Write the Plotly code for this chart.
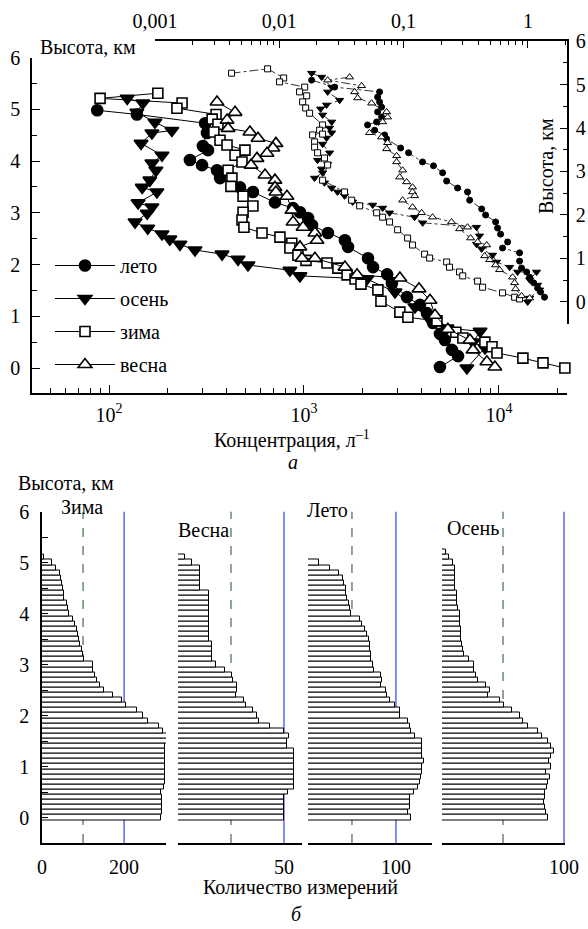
import plotly.graph_objects as go

# ---------------- data: top panel (large markers: concentration, 1/l ; left height axis) -------------
summer_big_c = [87, 139, 311, 318, 303, 322, 260, 300, 358, 371, 470, 547, 710, 879, 954, 1049, 1100, 1327,
                1622, 1682, 2130, 2260, 2670, 2825, 3375, 3935, 4275, 4590, 4980, 5280, 5740, 6170, 4980]
summer_big_h = [4.98, 4.90, 4.73, 4.54, 4.29, 4.21, 4.02, 3.92, 3.82, 3.67, 3.49, 3.40, 3.20, 3.09, 3.01, 2.90,
                2.76, 2.61, 2.47, 2.34, 2.12, 1.95, 1.81, 1.64, 1.37, 1.22, 1.06, 0.87, 0.66, 0.54, 0.35, 0.23, 0.02]

autumn_big_c = [124, 149, 139, 172, 210, 166, 146, 187, 166, 174, 162, 148, 176, 141, 166, 157, 136, 158,
                187, 205, 231, 276, 380, 459, 516, 847, 953, 2100, 2930, 3710, 4430, 5410, 8000, 7360, 8480, 6850]
autumn_big_h = [5.21, 5.12, 4.94, 4.75, 4.59, 4.54, 4.34, 4.11, 3.96, 3.82, 3.63, 3.49, 3.40, 3.19, 3.11, 2.99,
                2.82, 2.70, 2.59, 2.49, 2.39, 2.28, 2.20, 2.10, 1.99, 1.89, 1.78, 1.72, 1.47, 1.18, 0.93, 0.77,
                0.71, 0.50, 0.39, 0.0]

winter_big_c = [178, 90, 237, 223, 354, 338, 362, 345, 371, 403, 498, 443, 481, 408, 427, 422, 487, 547, 487,
                481, 492, 609, 753, 866, 847, 931, 1024, 1312, 1493, 1663, 1828, 1960, 2394, 2482, 3103, 3412,
                4808, 6010, 6530, 8470, 9210, 9770, 13270, 16830, 21780]
winter_big_h = [5.31, 5.21, 5.12, 5.02, 4.90, 4.81, 4.71, 4.56, 4.40, 4.31, 4.21, 4.11, 3.98, 3.82, 3.67, 3.51,
                3.32, 3.13, 3.01, 2.86, 2.72, 2.61, 2.53, 2.41, 2.32, 2.18, 2.08, 2.03, 1.93, 1.80, 1.72, 1.62,
                1.51, 1.29, 1.08, 0.98, 0.91, 0.69, 0.58, 0.50, 0.41, 0.29, 0.19, 0.10, 0.0]

spring_big_c = [358, 443, 403, 408, 528, 581, 718, 693, 646, 574, 535, 631, 710, 710, 718, 818, 867, 879, 989,
                1138, 1166, 953, 977, 1138, 1622, 1871, 3103, 3890, 4430, 4700, 5470, 7100, 7360, 8670, 9530]
spring_big_h = [5.14, 4.94, 4.79, 4.63, 4.56, 4.44, 4.34, 4.25, 4.15, 4.05, 3.92, 3.73, 3.63, 3.49, 3.40, 3.32,
                3.05, 2.82, 2.72, 2.61, 2.47, 2.34, 2.12, 2.12, 1.95, 1.80, 1.74, 1.53, 1.31, 1.02, 0.75, 0.54,
                0.35, 0.12, 0.02]

# ---------------- data: top panel (small markers: top log axis ; right height axis) -------------
summer_small_m = [0.0182, 0.0279, 0.0641, 0.0618, 0.0641, 0.0665, 0.0618, 0.0665, 0.0607, 0.0513, 0.0585,
                  0.0704, 0.0730, 0.0946, 0.1097, 0.142, 0.174, 0.206, 0.222, 0.272, 0.327, 0.340, 0.425,
                  0.457, 0.550, 0.570, 0.603, 0.687, 0.625, 0.857, 0.857, 0.889, 0.977, 1.033, 1.112, 1.197,
                  1.264, 1.361]
summer_small_h = [5.10, 4.94, 4.83, 4.71, 4.60, 4.48, 4.37, 4.25, 4.14, 4.07, 3.95, 3.84, 3.75, 3.54, 3.43,
                  3.22, 3.13, 2.97, 2.78, 2.62, 2.53, 2.34, 2.14, 2.00, 1.84, 1.70, 1.56, 1.38, 1.24, 1.13,
                  0.94, 0.78, 0.69, 0.57, 0.44, 0.32, 0.23, 0.11]

autumn_small_m = [0.0182, 0.0219, 0.0264, 0.0245, 0.0306, 0.0240, 0.0215, 0.0223, 0.0264, 0.0254, 0.0264,
                  0.0240, 0.0223, 0.0254, 0.0203, 0.0245, 0.0219, 0.0223, 0.0192, 0.0231, 0.0264, 0.0294,
                  0.0335, 0.0389, 0.0564, 0.0678, 0.0771, 0.1226, 0.1423, 0.386, 0.408, 0.386, 0.424, 0.520,
                  0.560, 0.713, 0.826, 1.175, 1.033, 1.197, 1.242, 1.033, 0.995]
autumn_small_h = [5.26, 5.17, 4.94, 4.83, 4.64, 4.53, 4.44, 4.30, 4.14, 4.00, 3.89, 3.77, 3.63, 3.43, 3.26,
                  3.17, 3.06, 2.97, 2.85, 2.74, 2.62, 2.53, 2.44, 2.30, 2.23, 2.16, 2.05, 1.95, 1.82, 1.72,
                  1.52, 1.33, 1.22, 1.08, 0.92, 0.80, 0.69, 0.69, 0.51, 0.39, 0.28, 0.09, 0.0]

winter_small_m = [0.00413, 0.00805, 0.01084, 0.01005, 0.0160, 0.01456, 0.0166, 0.0154, 0.0163, 0.01754,
                  0.0223, 0.0211, 0.0223, 0.01854, 0.01923, 0.01923, 0.02033, 0.0231, 0.0245, 0.0223, 0.0335,
                  0.0382, 0.0443, 0.0607, 0.0678, 0.0771, 0.0895, 0.1077, 0.118, 0.1475, 0.162, 0.222, 0.234,
                  0.282, 0.299, 0.394, 0.432, 0.625, 0.782, 0.857]
winter_small_h = [5.26, 5.36, 5.15, 5.06, 4.94, 4.83, 4.74, 4.60, 4.46, 4.34, 4.07, 3.95, 3.86, 3.84, 3.68,
                  3.56, 3.43, 3.31, 3.15, 2.80, 2.53, 2.34, 2.21, 2.05, 1.95, 1.84, 1.66, 1.47, 1.31, 1.10,
                  1.01, 0.92, 0.80, 0.69, 0.60, 0.48, 0.34, 0.21, 0.11, 0.07]

spring_small_m = [0.0368, 0.0245, 0.0459, 0.0404, 0.0427, 0.0553, 0.0730, 0.0743, 0.0678, 0.0532, 0.0665,
                  0.0743, 0.0730, 0.0879, 0.0879, 0.0982, 0.0929, 0.1057, 0.118, 0.118, 0.1226, 0.0982, 0.118,
                  0.1396, 0.171, 0.243, 0.327, 0.282, 0.346, 0.394, 0.466, 0.449, 0.492, 0.550, 0.592, 0.753,
                  0.782, 0.796, 0.889, 1.033]
spring_small_h = [5.17, 5.10, 4.97, 4.83, 4.69, 4.57, 4.37, 4.25, 4.14, 3.89, 3.79, 3.66, 3.52, 3.36, 3.22,
                  3.03, 2.87, 2.76, 2.64, 2.53, 2.44, 2.34, 2.18, 2.05, 1.95, 1.84, 1.72, 1.68, 1.47, 1.38,
                  1.31, 1.06, 0.97, 0.85, 0.74, 0.57, 0.44, 0.30, 0.14, 0.09]

# ---------------- data: bottom panel (number of measurements per 0.1 km height bin) -------------
bin_heights = [0.0, 0.1, 0.2, 0.3, 0.4, 0.5, 0.6, 0.7, 0.8, 0.9, 1.0, 1.1, 1.2, 1.3, 1.4, 1.5, 1.6, 1.7,
               1.8, 1.9, 2.0, 2.1, 2.2, 2.3, 2.4, 2.5, 2.6, 2.7, 2.8, 2.9, 3.0, 3.1, 3.2, 3.3, 3.4, 3.5,
               3.6, 3.7, 3.8, 3.9, 4.0, 4.1, 4.2, 4.3, 4.4, 4.5, 4.6, 4.7, 4.8, 4.9, 5.0, 5.1, 5.2]

winter_counts = [290, 292, 292, 292, 292, 290, 298, 300, 300, 300, 300, 300, 300, 299, 300, 306, 304, 294,
                 286, 258, 247, 231, 205, 194, 174, 152, 141, 135, 129, 125, 124, 103, 101, 98, 93, 90, 87,
                 85, 80, 76, 66, 64, 60, 54, 54, 52, 48, 46, 44, 33, 24, 6]
spring_counts = [50, 50, 50, 50, 50, 52, 54.5, 54.5, 54.5, 54.5, 54.5, 54.5, 54.5, 54.5, 51.3, 51.3, 52.4,
                 50, 43.5, 38.4, 37.1, 35.2, 32.1, 31.3, 27.2, 28, 28, 26.1, 25.3, 22.2, 17.9, 16.2, 16.2,
                 16.2, 16.2, 14.4, 14.4, 14.4, 14.4, 14.4, 14.4, 14.4, 14.4, 14.4, 14.4, 10.5, 10.5, 10.5,
                 10.5, 10.5, 6.6, 3.1]
summer_counts = [116.7, 113.6, 116.3, 116.3, 115.5, 120.5, 125, 126.9, 128, 129.5, 129.5, 131.8, 130, 129.5,
                 129.5, 129.5, 121.3, 117.5, 116.3, 113.6, 104.2, 104.2, 98.5, 92.8, 90.2, 89.1, 83.4, 84.5,
                 83.4, 74.7, 73.7, 72, 71.2, 71, 70.1, 69.3, 67, 64.4, 61.8, 58.7, 49.2, 47.3, 46.6, 44.3,
                 43.6, 42.8, 40.9, 39.8, 35.2, 24.7, 12.5]
autumn_counts = [86.6, 85.5, 84.7, 83.3, 84, 84.7, 86, 86.6, 88.2, 85.5, 89.6, 88, 89.6, 91.5, 89.6, 86.6,
                 82, 78.4, 70.5, 66.4, 63.6, 57.4, 50.5, 47.2, 37.4, 39, 36.1, 29.2, 27.9, 26.5, 26.5, 22.4,
                 18.4, 17, 16, 15.6, 15.6, 15.6, 15, 15, 14.4, 13.1, 12.3, 12.3, 12.3, 10.4, 10.4, 10.4,
                 10.4, 10.4, 8.7, 5.5, 3.3]

season_labels = ["Зима", "Весна", "Лето", "Осень"]
panel_counts = [winter_counts, spring_counts, summer_counts, autumn_counts]
panel_ranges = [302, 58.5, 141, 100.8]
panel_ticks = [[0, 200], [50], [100], [100]]
ref_half = [100, 25, 50, 50]
ref_full = [200, 50, 100, 100]

# ---------------- layout helpers (pixel -> paper) -------------
W, H = 588, 929
def fx(p):
    return p / W
def fy(p):
    return 1 - p / H

FONT = "Liberation Serif"
FS = 20
fig = go.Figure()

big_series = [
    ("лето", summer_big_c, summer_big_h, "circle", "black", 11),
    ("осень", autumn_big_c, autumn_big_h, "triangle-down", "black", 12),
    ("зима", winter_big_c, winter_big_h, "square", "white", 10),
    ("весна", spring_big_c, spring_big_h, "triangle-up", "white", 12),
]
small_series = [
    (summer_small_m, summer_small_h, "circle", "black", 6),
    (autumn_small_m, autumn_small_h, "triangle-down", "black", 7),
    (winter_small_m, winter_small_h, "square", "white", 6),
    (spring_small_m, spring_small_h, "triangle-up", "white", 7),
]

for (xs, ys, sym, col, sz) in small_series:
    fig.add_trace(go.Scatter(
        x=xs, y=ys, xaxis="x2", yaxis="y2", mode="lines+markers", showlegend=False,
        line=dict(color="black", width=0.8, dash="dashdot"),
        marker=dict(symbol=sym, color=col, size=sz, line=dict(color="black", width=1)),
        cliponaxis=False))

for i, (name, xs, ys, sym, col, sz) in enumerate(big_series):
    fig.add_trace(go.Scatter(
        x=xs, y=ys, xaxis="x", yaxis="y", mode="lines+markers", name=name,
        legendgroup="g%d" % i,
        line=dict(color="black", width=1),
        marker=dict(symbol=sym, color=col, size=sz, line=dict(color="black", width=1.6)),
        cliponaxis=False))

xnames = ["x3", "x4", "x5", "x6"]
for i in range(4):
    vals = panel_counts[i]
    fig.add_trace(go.Bar(
        x=vals, y=bin_heights[:len(vals)], orientation="h", width=0.1,
        xaxis=xnames[i], yaxis="y3", showlegend=False,
        marker=dict(color="white", line=dict(color="black", width=1))))

axis_common = dict(showgrid=False, zeroline=False, showline=True, linecolor="black", linewidth=1.5,
                   automargin=False,
                   tickcolor="black", tickwidth=1.2, tickfont=dict(family=FONT, size=FS, color="black"))

minor_bottom = [50, 60, 70, 80, 90, 200, 300, 400, 500, 600, 700, 800, 900,
                2000, 3000, 4000, 5000, 6000, 7000, 8000, 9000, 20000]
minor_top = [0.002, 0.003, 0.004, 0.005, 0.006, 0.007, 0.008, 0.009,
             0.02, 0.03, 0.04, 0.05, 0.06, 0.07, 0.08, 0.09,
             0.2, 0.3, 0.4, 0.5, 0.6, 0.7, 0.8, 0.9, 2]

layout_axes = dict(
    xaxis=dict(type="log", domain=[fx(32), fx(567)], range=[1.605, 4.349], anchor="y",
               tickmode="array", tickvals=[100, 1000, 10000],
               ticktext=["10<sup>2</sup>", "10<sup>3</sup>", "10<sup>4</sup>"],
               ticks="inside", ticklen=8, ticklabelstandoff=3,
               minor=dict(ticks="inside", ticklen=5, tickmode="array", tickvals=minor_bottom,
                          tickcolor="black", tickwidth=1.2),
               **axis_common),
    yaxis=dict(domain=[fy(393), fy(57.5)], range=[-0.483, 6.0], anchor="x",
               tickmode="array", tickvals=[0, 1, 2, 3, 4, 5, 6], ticks="inside", ticklen=8,
               ticklabelstandoff=6,
               minor=dict(ticks="inside", ticklen=5, dtick=0.5, tick0=0, tickcolor="black", tickwidth=1.2),
               **axis_common),
    xaxis2=dict(type="log", domain=[fx(155), fx(567)], range=[-3, 0.3146], anchor="y2", side="top",
                tickmode="array", tickvals=[0.001, 0.01, 0.1, 1], ticktext=["0,001", "0,01", "0,1", "1"],
                ticks="inside", ticklen=7, ticklabelstandoff=3,
                minor=dict(ticks="inside", ticklen=4, tickmode="array", tickvals=minor_top,
                           tickcolor="black", tickwidth=1.2),
                **axis_common),
    yaxis2=dict(domain=[fy(324), fy(41)], range=[-0.506, 6.0], anchor="x2", side="right",
                tickmode="array", tickvals=[0, 1, 2, 3, 4, 5, 6], ticks="inside", ticklen=7,
                ticklabelstandoff=3,
                minor=dict(ticks="inside", ticklen=4, dtick=0.5, tick0=0, tickcolor="black", tickwidth=1.2),
                **axis_common),
    yaxis3=dict(domain=[fy(843), fy(511.5)], range=[-0.5, 6.0], anchor="x3",
                tickmode="array", tickvals=[0, 1, 2, 3, 4, 5, 6], ticks="inside", ticklen=6,
                ticklabelstandoff=7,
                minor=dict(ticks="inside", ticklen=6, dtick=0.5, tick0=0, tickcolor="black", tickwidth=1.2),
                **axis_common),
)
panel_px = [(42, 166), (178, 302), (308, 432), (442, 565)]
for i in range(4):
    layout_axes["xaxis%d" % (i + 3)] = dict(
        domain=[fx(panel_px[i][0]), fx(panel_px[i][1])], range=[0, panel_ranges[i]], anchor="y3",
        tickmode="array", tickvals=panel_ticks[i], ticks="", ticklabelstandoff=5, **axis_common)

fig.update_layout(**layout_axes)

shapes = []
for i in range(4):
    xr = xnames[i]
    shapes.append(dict(type="line", xref=xr, yref="y3", x0=ref_half[i], x1=ref_half[i], y0=-0.5, y1=6.0,
                       layer="below", line=dict(color="#1f4f1f", width=1, dash="dash")))
    shapes.append(dict(type="line", xref=xr, yref="y3", x0=ref_full[i], x1=ref_full[i], y0=-0.5, y1=6.0,
                       layer="below", line=dict(color="#4a4aff", width=1.3)))

def ann(text, x, y, size=FS, angle=0, xanchor="center"):
    return dict(text=text, x=fx(x), y=fy(y), xref="paper", yref="paper", showarrow=False,
                xanchor=xanchor, yanchor="middle", textangle=angle,
                font=dict(family=FONT, size=size, color="black"))

annotations = [
    ann("Высота, км", 38, 47, xanchor="left"),
    ann("Высота, км", 546, 166, angle=-90),
    ann("Концентрация, л<sup>–1</sup>", 292, 440),
    ann("<i>а</i>", 293, 462),
    ann("Высота, км", 16, 483, xanchor="left"),
    ann("Количество измерений", 300, 887),
    ann("<i>б</i>", 296, 914),
]
title_pos = [(82, 507), (203, 530), (327, 510), (473, 528)]
for i in range(4):
    annotations.append(ann(season_labels[i], title_pos[i][0], title_pos[i][1]))

fig.update_layout(
    width=W, height=H, margin=dict(l=0, r=0, t=0, b=0, autoexpand=False),
    paper_bgcolor="white", plot_bgcolor="rgba(0,0,0,0)",
    font=dict(family=FONT, size=FS, color="black"),
    bargap=0, barmode="overlay",
    shapes=shapes, annotations=annotations,
    legend=dict(x=fx(50), y=fy(246), xanchor="left", yanchor="top", bgcolor="rgba(0,0,0,0)",
                traceorder="grouped", tracegroupgap=4, itemwidth=60,
                font=dict(family=FONT, size=FS, color="black")),
)

fig.write_html("out.html")
